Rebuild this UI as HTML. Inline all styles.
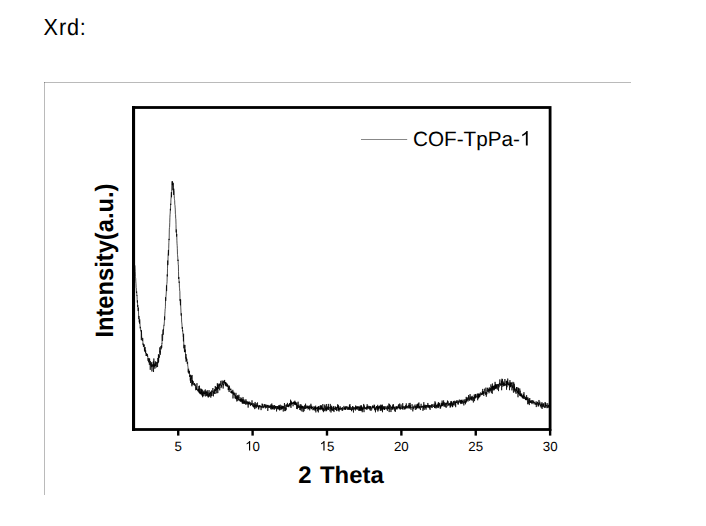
<!DOCTYPE html>
<html><head><meta charset="utf-8"><style>
html,body{margin:0;padding:0;background:#fff;}
body{width:706px;height:526px;overflow:hidden;position:relative;}
svg{position:absolute;left:0;top:0;}
</style></head><body>
<svg width="706" height="526" viewBox="0 0 706 526">
<text transform="translate(43.6 35) scale(0.93 1)" font-family="Liberation Sans, sans-serif" font-size="23.3" letter-spacing="0.9" text-rendering="geometricPrecision" fill="#000">Xrd:</text>
<line x1="44.5" y1="82" x2="44.5" y2="495" stroke="rgba(0,0,0,0.27)" stroke-width="1"/>
<line x1="44" y1="82.5" x2="631" y2="82.5" stroke="rgba(0,0,0,0.27)" stroke-width="1"/>
<polyline points="134.94,265.34 135.09,268.98 135.24,271.46 135.39,276.42 135.53,277.59 135.68,278.17 135.83,281.93 135.98,283.53 136.13,287.68 136.28,288.01 136.43,293.01 136.58,292.29 136.72,291.55 136.87,295.85 137.02,295.26 137.17,299.52 137.32,302.56 137.47,300.36 137.62,307.03 137.77,304.94 137.91,307.06 138.06,310.77 138.21,311.17 138.36,307.52 138.51,311.30 138.66,317.49 138.81,319.16 138.96,315.96 139.10,317.76 139.25,322.30 139.40,320.20 139.55,323.66 139.70,319.28 139.85,321.20 140.00,323.68 140.15,328.33 140.29,327.42 140.44,326.82 140.59,328.30 140.74,330.73 140.89,331.30 141.04,330.64 141.19,330.19 141.34,340.16 141.48,330.43 141.63,335.37 141.78,338.10 141.93,338.20 142.08,338.23 142.23,339.62 142.38,340.85 142.53,340.96 142.67,337.91 142.82,338.73 142.97,344.73 143.12,343.54 143.27,344.33 143.42,346.98 143.57,346.35 143.72,344.23 143.86,345.94 144.01,346.43 144.16,344.61 144.31,347.51 144.46,350.68 144.61,347.54 144.76,351.69 144.91,351.10 145.05,346.97 145.20,348.93 145.35,349.47 145.50,353.28 145.65,350.29 145.80,352.60 145.95,353.65 146.10,356.01 146.24,354.79 146.39,353.48 146.54,353.21 146.69,355.95 146.84,353.71 146.99,354.19 147.14,355.79 147.29,354.15 147.43,356.66 147.58,356.36 147.73,355.80 147.88,357.35 148.03,360.79 148.18,358.02 148.33,358.88 148.48,362.32 148.62,360.67 148.77,360.61 148.92,360.44 149.07,359.09 149.22,358.24 149.37,364.85 149.52,359.57 149.67,358.81 149.81,361.48 149.96,362.59 150.11,364.21 150.26,369.83 150.41,361.12 150.56,362.30 150.71,363.74 150.86,365.66 151.00,365.48 151.15,363.40 151.30,365.64 151.45,367.21 151.60,364.44 151.75,362.14 151.90,371.46 152.05,369.85 152.19,365.63 152.34,366.02 152.49,364.93 152.64,364.56 152.79,366.76 152.94,366.88 153.09,364.23 153.24,365.87 153.39,361.41 153.53,372.03 153.68,367.03 153.83,358.49 153.98,362.13 154.13,366.89 154.28,366.99 154.43,365.14 154.58,365.72 154.72,363.62 154.87,368.74 155.02,365.10 155.17,365.86 155.32,361.37 155.47,365.95 155.62,365.12 155.77,365.13 155.91,363.25 156.06,361.83 156.21,367.53 156.36,367.14 156.51,364.93 156.66,362.90 156.81,362.89 156.96,362.31 157.10,363.39 157.25,363.47 157.40,362.33 157.55,367.05 157.70,363.80 157.85,357.98 158.00,360.69 158.15,363.11 158.29,359.44 158.44,354.20 158.59,361.95 158.74,359.23 158.89,356.70 159.04,355.08 159.19,356.98 159.34,357.76 159.48,357.27 159.63,354.94 159.78,347.39 159.93,352.56 160.08,350.65 160.23,354.27 160.38,354.77 160.53,350.72 160.67,347.77 160.82,346.23 160.97,346.02 161.12,349.32 161.27,347.50 161.42,347.65 161.57,345.34 161.72,347.75 161.86,343.51 162.01,343.89 162.16,334.23 162.31,340.33 162.46,340.99 162.61,340.14 162.76,333.93 162.91,334.06 163.05,329.74 163.20,334.79 163.35,329.38 163.50,330.25 163.65,327.93 163.80,325.83 163.95,324.92 164.10,325.41 164.24,322.97 164.39,321.78 164.54,316.44 164.69,319.84 164.84,313.89 164.99,311.64 165.14,309.19 165.29,308.60 165.43,306.27 165.58,297.18 165.73,300.92 165.88,297.49 166.03,296.06 166.18,293.98 166.33,290.85 166.48,285.39 166.62,291.07 166.77,284.32 166.92,283.39 167.07,281.72 167.22,274.43 167.37,276.38 167.52,268.21 167.67,260.54 167.81,265.14 167.96,262.95 168.11,253.55 168.26,253.32 168.41,250.03 168.56,255.48 168.71,248.57 168.86,242.60 169.00,238.88 169.15,240.06 169.30,229.88 169.45,227.51 169.60,227.33 169.75,222.70 169.90,217.40 170.05,214.51 170.19,213.06 170.34,208.84 170.49,210.36 170.64,203.76 170.79,204.94 170.94,199.26 171.09,198.03 171.24,194.67 171.39,192.12 171.53,197.26 171.68,191.72 171.83,185.35 171.98,185.23 172.13,181.30 172.28,185.29 172.43,181.36 172.58,184.86 172.72,184.35 172.87,190.22 173.02,182.70 173.17,184.31 173.32,183.59 173.47,187.80 173.62,194.93 173.77,188.70 173.91,190.40 174.06,190.95 174.21,195.91 174.36,198.51 174.51,199.62 174.66,200.62 174.81,204.57 174.96,205.21 175.10,207.14 175.25,209.10 175.40,213.91 175.55,214.52 175.70,218.34 175.85,219.10 176.00,224.49 176.15,232.45 176.29,229.47 176.44,230.38 176.59,236.55 176.74,233.91 176.89,240.26 177.04,243.75 177.19,245.65 177.34,248.75 177.48,254.46 177.63,255.84 177.78,257.15 177.93,260.95 178.08,259.74 178.23,264.79 178.38,264.84 178.53,271.70 178.67,279.02 178.82,276.96 178.97,279.78 179.12,282.79 179.27,281.59 179.42,287.26 179.57,288.17 179.72,291.03 179.86,291.46 180.01,300.66 180.16,299.16 180.31,303.06 180.46,305.31 180.61,299.58 180.76,307.09 180.91,310.06 181.05,314.46 181.20,315.60 181.35,313.28 181.50,317.13 181.65,321.98 181.80,322.86 181.95,324.11 182.10,326.67 182.24,328.86 182.39,326.94 182.54,331.22 182.69,330.40 182.84,332.63 182.99,334.64 183.14,336.82 183.29,336.63 183.43,341.39 183.58,333.75 183.73,340.51 183.88,348.32 184.03,344.78 184.18,345.03 184.33,348.66 184.48,352.11 184.62,349.45 184.77,348.19 184.92,344.93 185.07,352.14 185.22,350.59 185.37,349.57 185.52,354.86 185.67,354.60 185.81,358.54 185.96,354.06 186.11,361.79 186.26,357.47 186.41,359.93 186.56,361.01 186.71,360.82 186.86,358.79 187.00,361.56 187.15,362.99 187.30,363.91 187.45,363.29 187.60,361.74 187.75,365.88 187.90,366.45 188.05,367.57 188.19,372.42 188.34,369.57 188.49,369.12 188.64,368.82 188.79,373.37 188.94,372.66 189.09,370.84 189.24,373.68 189.38,370.88 189.53,373.66 189.68,377.06 189.83,375.44 189.98,376.20 190.13,374.78 190.28,380.57 190.43,377.88 190.58,383.01 190.72,374.87 190.87,376.15 191.02,379.06 191.17,377.72 191.32,377.59 191.47,375.91 191.62,382.55 191.77,382.86 191.91,386.27 192.06,374.97 192.21,384.59 192.36,380.03 192.51,381.30 192.66,384.09 192.81,381.12 192.96,381.26 193.10,380.93 193.25,382.29 193.40,381.81 193.55,383.82 193.70,384.63 193.85,384.88 194.00,384.99 194.15,383.45 194.29,385.33 194.44,383.24 194.59,382.99 194.74,384.47 194.89,384.14 195.04,385.83 195.19,386.08 195.34,384.54 195.48,387.47 195.63,387.27 195.78,390.24 195.93,389.60 196.08,386.28 196.23,389.70 196.38,388.04 196.53,387.99 196.67,389.77 196.82,385.26 196.97,383.18 197.12,389.93 197.27,389.49 197.42,390.30 197.57,390.27 197.72,390.90 197.86,390.59 198.01,389.46 198.16,389.89 198.31,391.82 198.46,388.84 198.61,390.17 198.76,391.16 198.91,386.07 199.05,391.72 199.20,393.00 199.35,385.65 199.50,385.78 199.65,393.31 199.80,391.84 199.95,391.27 200.10,393.60 200.24,388.58 200.39,394.29 200.54,392.87 200.69,392.09 200.84,393.66 200.99,393.06 201.14,391.32 201.29,388.75 201.43,393.43 201.58,389.43 201.73,394.82 201.88,391.84 202.03,394.32 202.18,395.88 202.33,389.86 202.48,389.67 202.62,397.23 202.77,393.14 202.92,396.23 203.07,392.82 203.22,391.71 203.37,393.48 203.52,393.86 203.67,391.51 203.81,393.40 203.96,396.15 204.11,390.48 204.26,391.95 204.41,394.02 204.56,393.05 204.71,393.84 204.86,392.37 205.00,394.46 205.15,391.14 205.30,389.48 205.45,395.00 205.60,396.42 205.75,394.77 205.90,391.40 206.05,394.00 206.19,391.39 206.34,392.91 206.49,391.99 206.64,396.05 206.79,394.03 206.94,395.15 207.09,391.00 207.24,390.16 207.38,392.80 207.53,394.76 207.68,395.68 207.83,391.72 207.98,396.73 208.13,393.69 208.28,397.54 208.43,395.79 208.58,396.57 208.72,393.20 208.87,393.06 209.02,390.12 209.17,391.26 209.32,396.17 209.47,393.02 209.62,393.75 209.77,396.60 209.91,393.07 210.06,393.35 210.21,394.31 210.36,391.90 210.51,392.73 210.66,391.74 210.81,397.63 210.96,392.59 211.10,393.74 211.25,395.65 211.40,396.09 211.55,390.47 211.70,392.75 211.85,393.94 212.00,395.90 212.15,391.89 212.29,391.40 212.44,391.24 212.59,391.91 212.74,391.67 212.89,388.04 213.04,393.30 213.19,392.80 213.34,393.08 213.48,396.35 213.63,391.68 213.78,393.17 213.93,390.77 214.08,390.19 214.23,392.01 214.38,393.84 214.53,389.67 214.67,390.64 214.82,389.16 214.97,391.82 215.12,394.02 215.27,386.02 215.42,389.90 215.57,391.01 215.72,389.97 215.86,390.45 216.01,386.94 216.16,388.86 216.31,390.00 216.46,387.53 216.61,389.81 216.76,393.36 216.91,389.56 217.05,387.53 217.20,389.79 217.35,383.20 217.50,389.38 217.65,384.63 217.80,393.09 217.95,389.28 218.10,384.56 218.24,387.55 218.39,386.96 218.54,388.84 218.69,386.24 218.84,386.49 218.99,383.58 219.14,385.96 219.29,384.61 219.43,383.92 219.58,387.53 219.73,390.32 219.88,383.89 220.03,385.15 220.18,385.64 220.33,383.75 220.48,384.39 220.62,384.51 220.77,380.87 220.92,383.08 221.07,388.12 221.22,387.11 221.37,386.83 221.52,385.06 221.67,386.62 221.81,383.44 221.96,383.36 222.11,380.50 222.26,381.82 222.41,384.55 222.56,383.35 222.71,382.60 222.86,381.60 223.00,382.35 223.15,388.55 223.30,383.95 223.45,385.41 223.60,384.14 223.75,381.07 223.90,382.66 224.05,380.49 224.19,383.01 224.34,382.92 224.49,382.73 224.64,379.94 224.79,383.84 224.94,384.29 225.09,382.63 225.24,382.23 225.38,385.67 225.53,382.16 225.68,385.11 225.83,382.37 225.98,384.26 226.13,386.34 226.28,382.91 226.43,385.42 226.57,385.88 226.72,385.17 226.87,386.41 227.02,384.70 227.17,383.91 227.32,383.85 227.47,383.82 227.62,386.81 227.77,384.83 227.91,386.33 228.06,385.49 228.21,390.14 228.36,388.64 228.51,386.43 228.66,390.03 228.81,387.47 228.96,388.10 229.10,392.04 229.25,389.78 229.40,385.72 229.55,388.50 229.70,387.68 229.85,388.75 230.00,389.72 230.15,389.29 230.29,389.83 230.44,389.92 230.59,388.98 230.74,389.76 230.89,388.71 231.04,393.03 231.19,391.17 231.34,392.84 231.48,391.08 231.63,392.99 231.78,390.69 231.93,391.20 232.08,393.78 232.23,391.79 232.38,393.10 232.53,392.48 232.67,392.84 232.82,389.84 232.97,398.46 233.12,395.73 233.27,393.07 233.42,393.86 233.57,394.08 233.72,391.70 233.86,394.68 234.01,393.79 234.16,395.36 234.31,393.78 234.46,392.83 234.61,394.75 234.76,396.35 234.91,396.90 235.05,398.40 235.20,396.33 235.35,394.82 235.50,398.72 235.65,396.16 235.80,396.52 235.95,392.84 236.10,394.81 236.24,396.03 236.39,399.41 236.54,398.97 236.69,396.09 236.84,401.48 236.99,397.94 237.14,396.56 237.29,398.13 237.43,398.93 237.58,398.44 237.73,395.05 237.88,401.02 238.03,398.10 238.18,396.19 238.33,399.01 238.48,400.00 238.62,398.75 238.77,397.63 238.92,394.76 239.07,397.93 239.22,397.51 239.37,398.19 239.52,399.96 239.67,399.57 239.81,401.00 239.96,399.10 240.11,401.15 240.26,400.87 240.41,401.79 240.56,398.90 240.71,400.66 240.86,397.37 241.00,400.05 241.15,400.25 241.30,401.19 241.45,401.07 241.60,398.30 241.75,402.30 241.90,399.50 242.05,401.45 242.19,400.20 242.34,403.61 242.49,402.26 242.64,399.21 242.79,403.26 242.94,397.13 243.09,397.21 243.24,403.32 243.38,403.09 243.53,402.62 243.68,403.40 243.83,399.20 243.98,402.05 244.13,403.92 244.28,400.64 244.43,401.61 244.57,403.44 244.72,402.34 244.87,400.71 245.02,402.22 245.17,403.20 245.32,402.79 245.47,402.63 245.62,404.64 245.77,402.36 245.91,399.24 246.06,402.95 246.21,400.78 246.36,403.55 246.51,404.14 246.66,403.44 246.81,402.49 246.96,403.41 247.10,404.59 247.25,401.70 247.40,401.29 247.55,403.55 247.70,402.26 247.85,402.77 248.00,402.55 248.15,407.62 248.29,402.36 248.44,403.85 248.59,401.99 248.74,404.63 248.89,404.27 249.04,401.33 249.19,403.69 249.34,403.14 249.48,403.95 249.63,402.87 249.78,404.31 249.93,403.13 250.08,401.98 250.23,403.92 250.38,405.23 250.53,405.99 250.67,405.88 250.82,403.53 250.97,405.04 251.12,403.29 251.27,405.02 251.42,403.43 251.57,404.48 251.72,405.00 251.86,403.61 252.01,400.31 252.16,404.47 252.31,403.45 252.46,403.44 252.61,406.15 252.76,405.45 252.91,405.62 253.05,405.40 253.20,406.77 253.35,403.62 253.50,403.32 253.65,404.53 253.80,407.46 253.95,405.55 254.10,407.12 254.24,403.59 254.39,403.92 254.54,405.49 254.69,409.13 254.84,406.40 254.99,404.34 255.14,401.96 255.29,406.48 255.43,405.70 255.58,406.46 255.73,404.65 255.88,408.32 256.03,407.13 256.18,403.25 256.33,404.81 256.48,407.57 256.62,406.90 256.77,405.10 256.92,405.86 257.07,406.13 257.22,405.10 257.37,405.98 257.52,402.46 257.67,405.61 257.81,406.96 257.96,405.44 258.11,407.31 258.26,407.42 258.41,408.61 258.56,405.85 258.71,409.50 258.86,407.77 259.00,406.46 259.15,405.18 259.30,406.74 259.45,406.32 259.60,405.59 259.75,407.43 259.90,406.83 260.05,405.24 260.19,406.81 260.34,406.81 260.49,406.57 260.64,405.99 260.79,406.68 260.94,407.84 261.09,410.12 261.24,405.97 261.38,407.57 261.53,407.30 261.68,406.27 261.83,406.07 261.98,405.79 262.13,403.57 262.28,408.16 262.43,407.41 262.57,405.14 262.72,404.03 262.87,405.50 263.02,405.96 263.17,406.78 263.32,405.68 263.47,407.39 263.62,407.00 263.76,408.15 263.91,406.54 264.06,406.78 264.21,406.24 264.36,404.32 264.51,405.19 264.66,406.98 264.81,407.18 264.96,403.99 265.10,406.31 265.25,405.45 265.40,407.61 265.55,408.41 265.70,405.51 265.85,407.40 266.00,406.13 266.15,406.42 266.29,404.69 266.44,405.31 266.59,407.15 266.74,408.03 266.89,406.21 267.04,405.39 267.19,405.53 267.34,406.47 267.48,405.94 267.63,404.95 267.78,410.92 267.93,408.44 268.08,404.94 268.23,407.45 268.38,407.34 268.53,407.75 268.67,405.80 268.82,405.74 268.97,406.60 269.12,406.34 269.27,407.69 269.42,407.83 269.57,406.73 269.72,405.48 269.86,407.69 270.01,406.02 270.16,407.05 270.31,407.30 270.46,405.69 270.61,407.74 270.76,409.25 270.91,404.39 271.05,405.73 271.20,406.20 271.35,405.94 271.50,408.31 271.65,408.34 271.80,403.53 271.95,409.61 272.10,405.46 272.24,406.94 272.39,408.73 272.54,407.20 272.69,408.82 272.84,407.07 272.99,405.16 273.14,406.69 273.29,405.74 273.43,407.67 273.58,407.61 273.73,406.21 273.88,409.07 274.03,407.10 274.18,409.87 274.33,406.34 274.48,405.12 274.62,407.45 274.77,408.46 274.92,407.96 275.07,407.41 275.22,405.85 275.37,407.93 275.52,406.43 275.67,406.14 275.81,408.90 275.96,408.73 276.11,406.14 276.26,407.39 276.41,407.72 276.56,411.45 276.71,407.79 276.86,407.92 277.00,406.03 277.15,406.80 277.30,406.13 277.45,408.88 277.60,408.74 277.75,406.62 277.90,409.30 278.05,409.36 278.19,406.23 278.34,408.10 278.49,409.25 278.64,406.49 278.79,405.20 278.94,405.70 279.09,407.24 279.24,408.21 279.38,405.43 279.53,410.40 279.68,406.13 279.83,409.61 279.98,406.90 280.13,404.71 280.28,404.71 280.43,406.07 280.57,408.22 280.72,407.13 280.87,410.13 281.02,407.56 281.17,407.46 281.32,408.08 281.47,406.71 281.62,409.14 281.76,405.45 281.91,409.24 282.06,406.49 282.21,408.95 282.36,406.24 282.51,407.96 282.66,407.55 282.81,406.64 282.96,407.14 283.10,405.94 283.25,411.55 283.40,406.36 283.55,406.72 283.70,407.96 283.85,407.44 284.00,408.65 284.15,406.50 284.29,405.93 284.44,403.02 284.59,405.39 284.74,411.11 284.89,406.47 285.04,405.16 285.19,404.83 285.34,407.09 285.48,408.70 285.63,411.06 285.78,407.38 285.93,409.26 286.08,408.59 286.23,409.74 286.38,404.40 286.53,405.70 286.67,405.76 286.82,406.80 286.97,404.79 287.12,405.82 287.27,406.73 287.42,402.89 287.57,404.82 287.72,404.63 287.86,406.75 288.01,405.58 288.16,405.16 288.31,405.05 288.46,406.67 288.61,404.70 288.76,407.18 288.91,405.23 289.05,405.18 289.20,404.23 289.35,403.73 289.50,405.58 289.65,403.54 289.80,404.12 289.95,403.02 290.10,406.41 290.24,403.96 290.39,404.41 290.54,399.71 290.69,400.78 290.84,402.66 290.99,407.91 291.14,400.88 291.29,404.39 291.43,402.33 291.58,404.33 291.73,404.38 291.88,402.80 292.03,402.56 292.18,403.05 292.33,403.88 292.48,403.33 292.62,402.82 292.77,403.66 292.92,402.50 293.07,406.27 293.22,402.95 293.37,403.28 293.52,402.01 293.67,402.99 293.81,403.43 293.96,401.53 294.11,402.78 294.26,404.17 294.41,402.30 294.56,404.36 294.71,404.79 294.86,400.72 295.00,403.57 295.15,401.82 295.30,404.91 295.45,402.40 295.60,404.17 295.75,402.11 295.90,405.13 296.05,404.26 296.19,403.23 296.34,405.22 296.49,404.19 296.64,408.98 296.79,403.42 296.94,402.49 297.09,404.29 297.24,404.43 297.38,409.15 297.53,405.24 297.68,406.26 297.83,407.53 297.98,406.06 298.13,401.68 298.28,404.03 298.43,405.12 298.57,406.32 298.72,407.90 298.87,405.17 299.02,407.71 299.17,406.49 299.32,407.21 299.47,407.13 299.62,406.11 299.76,409.99 299.91,408.05 300.06,407.19 300.21,404.22 300.36,407.99 300.51,407.06 300.66,410.37 300.81,406.05 300.95,406.71 301.10,404.48 301.25,408.66 301.40,405.74 301.55,407.66 301.70,406.37 301.85,411.39 302.00,408.36 302.15,408.44 302.29,406.07 302.44,407.78 302.59,405.84 302.74,408.54 302.89,406.70 303.04,408.94 303.19,412.08 303.34,408.39 303.48,406.61 303.63,407.80 303.78,408.31 303.93,407.69 304.08,411.13 304.23,406.18 304.38,408.84 304.53,408.49 304.67,407.68 304.82,404.96 304.97,405.55 305.12,408.91 305.27,407.57 305.42,405.02 305.57,403.67 305.72,408.84 305.86,408.22 306.01,408.27 306.16,405.52 306.31,407.17 306.46,408.22 306.61,407.20 306.76,406.95 306.91,407.46 307.05,406.33 307.20,406.29 307.35,407.63 307.50,406.87 307.65,408.09 307.80,405.63 307.95,409.44 308.10,408.99 308.24,406.86 308.39,406.12 308.54,408.69 308.69,407.30 308.84,407.64 308.99,407.40 309.14,408.72 309.29,405.82 309.43,407.71 309.58,407.22 309.73,410.37 309.88,407.55 310.03,405.32 310.18,408.07 310.33,407.55 310.48,408.26 310.62,407.52 310.77,407.11 310.92,403.77 311.07,407.30 311.22,408.53 311.37,406.93 311.52,409.16 311.67,405.74 311.81,408.15 311.96,407.45 312.11,407.68 312.26,406.73 312.41,408.01 312.56,406.98 312.71,408.18 312.86,407.59 313.00,410.24 313.15,408.39 313.30,409.74 313.45,407.91 313.60,408.24 313.75,408.68 313.90,407.59 314.05,406.06 314.19,408.80 314.34,407.21 314.49,407.66 314.64,409.38 314.79,410.50 314.94,408.32 315.09,407.09 315.24,410.24 315.38,406.90 315.53,410.38 315.68,405.68 315.83,412.40 315.98,410.29 316.13,407.55 316.28,408.17 316.43,408.97 316.57,408.16 316.72,408.64 316.87,407.45 317.02,408.25 317.17,408.26 317.32,407.27 317.47,411.21 317.62,408.08 317.76,407.18 317.91,406.67 318.06,408.58 318.21,407.45 318.36,412.42 318.51,406.36 318.66,409.72 318.81,406.66 318.95,406.30 319.10,408.90 319.25,408.97 319.40,408.91 319.55,408.18 319.70,408.90 319.85,407.87 320.00,410.16 320.15,405.71 320.29,408.75 320.44,408.36 320.59,408.95 320.74,407.36 320.89,405.19 321.04,409.70 321.19,405.52 321.34,409.25 321.48,407.64 321.63,405.89 321.78,408.93 321.93,407.92 322.08,409.04 322.23,407.56 322.38,409.11 322.53,407.96 322.67,410.65 322.82,404.05 322.97,407.62 323.12,409.45 323.27,407.78 323.42,412.17 323.57,409.61 323.72,410.26 323.86,408.84 324.01,410.74 324.16,409.89 324.31,408.19 324.46,405.65 324.61,404.73 324.76,404.62 324.91,411.22 325.05,407.31 325.20,405.75 325.35,407.95 325.50,409.59 325.65,407.54 325.80,407.80 325.95,409.64 326.10,408.03 326.24,411.23 326.39,404.03 326.54,408.34 326.69,410.70 326.84,407.60 326.99,407.90 327.14,409.06 327.29,408.02 327.43,407.18 327.58,408.63 327.73,409.68 327.88,407.65 328.03,406.17 328.18,409.59 328.33,403.91 328.48,408.09 328.62,409.85 328.77,407.80 328.92,407.37 329.07,406.89 329.22,407.32 329.37,407.75 329.52,407.39 329.67,408.18 329.81,408.09 329.96,411.34 330.11,407.40 330.26,403.92 330.41,404.48 330.56,407.49 330.71,408.84 330.86,406.38 331.00,412.50 331.15,407.75 331.30,410.36 331.45,406.04 331.60,405.74 331.75,409.65 331.90,407.66 332.05,407.24 332.19,408.42 332.34,408.65 332.49,410.23 332.64,409.49 332.79,410.83 332.94,407.80 333.09,406.66 333.24,406.54 333.38,410.92 333.53,406.82 333.68,406.22 333.83,407.80 333.98,412.06 334.13,408.93 334.28,409.19 334.43,408.18 334.57,408.71 334.72,407.88 334.87,408.53 335.02,408.38 335.17,406.47 335.32,407.26 335.47,409.99 335.62,407.92 335.76,406.79 335.91,408.02 336.06,407.91 336.21,409.53 336.36,407.17 336.51,407.26 336.66,411.11 336.81,409.35 336.95,410.66 337.10,408.27 337.25,407.95 337.40,407.42 337.55,408.13 337.70,404.24 337.85,408.27 338.00,405.54 338.14,407.87 338.29,410.20 338.44,405.25 338.59,410.46 338.74,409.51 338.89,407.38 339.04,411.56 339.19,408.91 339.34,407.95 339.48,409.75 339.63,408.04 339.78,408.75 339.93,407.47 340.08,406.18 340.23,407.80 340.38,407.55 340.53,408.37 340.67,408.29 340.82,410.03 340.97,407.80 341.12,409.20 341.27,407.95 341.42,408.62 341.57,408.05 341.72,408.83 341.86,408.70 342.01,410.61 342.16,409.22 342.31,407.45 342.46,407.05 342.61,410.78 342.76,409.89 342.91,409.01 343.05,409.66 343.20,408.43 343.35,407.93 343.50,408.42 343.65,407.88 343.80,406.21 343.95,405.92 344.10,406.11 344.24,408.96 344.39,408.23 344.54,409.32 344.69,407.19 344.84,409.70 344.99,407.54 345.14,409.15 345.29,408.38 345.43,409.34 345.58,406.32 345.73,410.01 345.88,408.51 346.03,408.92 346.18,406.93 346.33,407.50 346.48,407.99 346.62,407.58 346.77,406.03 346.92,406.75 347.07,408.62 347.22,407.62 347.37,408.61 347.52,409.20 347.67,409.90 347.81,406.98 347.96,406.74 348.11,408.08 348.26,408.48 348.41,407.60 348.56,409.57 348.71,408.34 348.86,409.32 349.00,406.99 349.15,409.57 349.30,409.33 349.45,404.93 349.60,408.12 349.75,409.67 349.90,404.08 350.05,407.98 350.19,406.41 350.34,409.95 350.49,409.51 350.64,408.92 350.79,408.08 350.94,408.54 351.09,409.10 351.24,410.02 351.38,409.05 351.53,411.20 351.68,407.21 351.83,408.51 351.98,410.25 352.13,410.06 352.28,408.10 352.43,407.47 352.57,406.06 352.72,409.64 352.87,407.86 353.02,406.53 353.17,407.38 353.32,410.87 353.47,412.50 353.62,407.36 353.76,407.10 353.91,409.33 354.06,409.12 354.21,408.69 354.36,408.54 354.51,407.55 354.66,409.01 354.81,409.45 354.95,408.52 355.10,407.37 355.25,409.30 355.40,410.56 355.55,405.62 355.70,406.26 355.85,408.57 356.00,409.17 356.14,405.90 356.29,409.44 356.44,409.00 356.59,406.92 356.74,408.82 356.89,408.28 357.04,407.16 357.19,407.88 357.34,408.11 357.48,406.59 357.63,409.65 357.78,407.33 357.93,406.25 358.08,406.10 358.23,408.01 358.38,407.46 358.53,407.14 358.67,410.54 358.82,410.82 358.97,410.52 359.12,406.34 359.27,410.46 359.42,408.14 359.57,407.07 359.72,407.94 359.86,410.49 360.01,408.54 360.16,410.76 360.31,405.71 360.46,408.23 360.61,410.02 360.76,408.84 360.91,406.92 361.05,410.88 361.20,405.08 361.35,406.82 361.50,409.16 361.65,406.05 361.80,407.62 361.95,410.76 362.10,408.06 362.24,412.23 362.39,407.48 362.54,410.03 362.69,408.83 362.84,407.42 362.99,408.18 363.14,408.29 363.29,409.33 363.43,406.26 363.58,404.84 363.73,403.95 363.88,408.01 364.03,412.16 364.18,405.37 364.33,407.93 364.48,406.64 364.62,408.16 364.77,408.73 364.92,408.18 365.07,408.96 365.22,408.89 365.37,407.48 365.52,408.82 365.67,408.91 365.81,407.76 365.96,407.32 366.11,409.35 366.26,409.51 366.41,409.14 366.56,406.67 366.71,407.75 366.86,407.66 367.00,409.69 367.15,404.22 367.30,406.89 367.45,408.42 367.60,405.93 367.75,407.75 367.90,407.80 368.05,407.44 368.19,408.89 368.34,408.66 368.49,407.55 368.64,408.07 368.79,405.81 368.94,406.48 369.09,407.44 369.24,406.04 369.38,409.28 369.53,407.84 369.68,407.11 369.83,406.66 369.98,408.24 370.13,410.40 370.28,406.64 370.43,406.36 370.57,408.30 370.72,406.22 370.87,407.79 371.02,410.87 371.17,410.24 371.32,407.95 371.47,407.52 371.62,407.98 371.76,408.73 371.91,409.40 372.06,408.44 372.21,408.22 372.36,406.14 372.51,407.64 372.66,405.44 372.81,407.88 372.95,407.22 373.10,405.97 373.25,408.10 373.40,408.09 373.55,407.28 373.70,406.48 373.85,407.14 374.00,407.52 374.14,404.65 374.29,408.74 374.44,407.39 374.59,405.26 374.74,410.27 374.89,408.57 375.04,409.91 375.19,407.91 375.33,407.96 375.48,412.32 375.63,407.47 375.78,408.79 375.93,410.12 376.08,406.75 376.23,406.87 376.38,407.21 376.53,406.27 376.67,408.36 376.82,406.09 376.97,408.15 377.12,407.44 377.27,409.60 377.42,408.07 377.57,406.84 377.72,404.83 377.86,411.49 378.01,406.59 378.16,410.34 378.31,407.25 378.46,406.65 378.61,408.90 378.76,406.66 378.91,408.24 379.05,406.79 379.20,406.80 379.35,406.21 379.50,408.45 379.65,406.31 379.80,407.29 379.95,406.28 380.10,405.34 380.24,410.59 380.39,409.71 380.54,406.64 380.69,410.68 380.84,404.64 380.99,407.98 381.14,406.77 381.29,408.63 381.43,408.78 381.58,405.75 381.73,410.53 381.88,405.27 382.03,406.88 382.18,410.02 382.33,404.64 382.48,412.22 382.62,408.38 382.77,408.07 382.92,408.91 383.07,406.98 383.22,407.40 383.37,406.19 383.52,408.69 383.67,407.75 383.81,407.39 383.96,409.58 384.11,407.62 384.26,409.40 384.41,406.32 384.56,410.00 384.71,408.32 384.86,409.12 385.00,409.12 385.15,407.73 385.30,406.30 385.45,406.89 385.60,407.22 385.75,408.04 385.90,408.77 386.05,408.13 386.19,407.48 386.34,409.33 386.49,408.77 386.64,408.82 386.79,406.60 386.94,406.34 387.09,406.17 387.24,405.96 387.38,410.80 387.53,407.21 387.68,406.64 387.83,405.58 387.98,407.82 388.13,408.88 388.28,407.48 388.43,406.81 388.57,408.11 388.72,409.04 388.87,403.52 389.02,407.26 389.17,412.09 389.32,408.04 389.47,407.45 389.62,404.09 389.76,407.80 389.91,409.58 390.06,409.46 390.21,405.14 390.36,405.84 390.51,407.44 390.66,407.77 390.81,408.93 390.95,412.06 391.10,410.42 391.25,406.63 391.40,408.05 391.55,407.07 391.70,407.73 391.85,409.51 392.00,409.88 392.14,409.52 392.29,406.33 392.44,409.11 392.59,408.49 392.74,404.61 392.89,407.12 393.04,409.47 393.19,407.11 393.33,408.13 393.48,404.26 393.63,407.60 393.78,407.47 393.93,406.83 394.08,407.20 394.23,409.22 394.38,408.34 394.53,406.81 394.67,407.26 394.82,411.03 394.97,407.44 395.12,408.39 395.27,411.95 395.42,409.35 395.57,409.56 395.72,408.66 395.86,406.98 396.01,406.42 396.16,408.66 396.31,406.52 396.46,406.97 396.61,409.25 396.76,408.19 396.91,406.49 397.05,406.79 397.20,409.35 397.35,406.85 397.50,407.87 397.65,406.68 397.80,407.32 397.95,407.40 398.10,407.63 398.24,407.51 398.39,404.90 398.54,406.41 398.69,408.19 398.84,404.20 398.99,405.54 399.14,408.34 399.29,408.59 399.43,407.08 399.58,408.27 399.73,403.52 399.88,405.88 400.03,409.37 400.18,407.49 400.33,406.83 400.48,407.85 400.62,409.38 400.77,407.20 400.92,406.36 401.07,404.51 401.22,407.51 401.37,408.20 401.52,408.98 401.67,408.61 401.81,408.24 401.96,406.22 402.11,406.50 402.26,407.66 402.41,407.30 402.56,409.00 402.71,403.16 402.86,409.65 403.00,407.51 403.15,405.97 403.30,406.09 403.45,407.63 403.60,407.43 403.75,407.87 403.90,407.26 404.05,407.92 404.19,409.28 404.34,408.96 404.49,409.13 404.64,406.74 404.79,406.18 404.94,409.41 405.09,406.49 405.24,406.48 405.38,408.37 405.53,406.72 405.68,405.18 405.83,408.61 405.98,407.43 406.13,407.66 406.28,403.38 406.43,405.89 406.57,406.69 406.72,408.26 406.87,405.92 407.02,407.69 407.17,406.98 407.32,406.04 407.47,406.72 407.62,406.70 407.76,407.96 407.91,408.41 408.06,407.72 408.21,407.18 408.36,404.90 408.51,407.25 408.66,408.06 408.81,408.16 408.95,408.22 409.10,403.03 409.25,406.78 409.40,407.87 409.55,407.40 409.70,405.40 409.85,408.67 410.00,406.89 410.14,402.89 410.29,406.16 410.44,407.84 410.59,405.35 410.74,408.61 410.89,408.53 411.04,409.75 411.19,407.21 411.33,407.55 411.48,407.46 411.63,407.29 411.78,407.73 411.93,407.50 412.08,404.21 412.23,405.32 412.38,406.06 412.52,406.20 412.67,407.88 412.82,411.36 412.97,406.96 413.12,407.76 413.27,407.30 413.42,406.74 413.57,409.11 413.72,408.76 413.86,406.09 414.01,405.71 414.16,406.37 414.31,406.76 414.46,407.02 414.61,407.67 414.76,406.61 414.91,406.88 415.05,404.54 415.20,408.66 415.35,409.89 415.50,408.09 415.65,406.22 415.80,407.63 415.95,407.02 416.10,406.28 416.24,407.16 416.39,409.34 416.54,408.00 416.69,404.46 416.84,406.93 416.99,408.01 417.14,406.39 417.29,408.31 417.43,407.49 417.58,403.93 417.73,407.89 417.88,404.53 418.03,406.74 418.18,403.51 418.33,403.22 418.48,404.95 418.62,407.86 418.77,407.38 418.92,402.48 419.07,408.70 419.22,407.03 419.37,407.60 419.52,407.98 419.67,406.16 419.81,408.09 419.96,405.91 420.11,406.20 420.26,408.41 420.41,410.04 420.56,407.79 420.71,407.68 420.86,406.05 421.00,404.83 421.15,403.81 421.30,406.74 421.45,407.67 421.60,406.06 421.75,407.06 421.90,406.72 422.05,407.21 422.19,407.28 422.34,406.55 422.49,407.08 422.64,406.17 422.79,405.86 422.94,410.83 423.09,408.95 423.24,405.63 423.38,408.46 423.53,408.11 423.68,403.59 423.83,402.19 423.98,406.39 424.13,409.93 424.28,406.76 424.43,405.62 424.57,406.97 424.72,405.61 424.87,404.66 425.02,408.19 425.17,406.80 425.32,406.79 425.47,408.20 425.62,405.31 425.76,406.61 425.91,405.28 426.06,409.71 426.21,407.19 426.36,405.01 426.51,405.23 426.66,407.27 426.81,407.03 426.95,407.62 427.10,407.16 427.25,404.93 427.40,406.09 427.55,406.72 427.70,404.29 427.85,402.96 428.00,404.85 428.14,407.67 428.29,404.84 428.44,406.93 428.59,406.50 428.74,407.39 428.89,405.36 429.04,406.08 429.19,407.50 429.33,405.09 429.48,408.41 429.63,405.65 429.78,406.30 429.93,406.87 430.08,409.88 430.23,406.67 430.38,406.87 430.52,405.62 430.67,405.23 430.82,407.10 430.97,406.92 431.12,405.20 431.27,404.98 431.42,407.44 431.57,404.84 431.72,405.15 431.86,405.26 432.01,404.04 432.16,408.04 432.31,406.28 432.46,405.73 432.61,405.02 432.76,404.70 432.91,405.97 433.05,406.11 433.20,406.79 433.35,405.91 433.50,406.13 433.65,406.02 433.80,406.94 433.95,406.80 434.10,403.79 434.24,405.87 434.39,405.11 434.54,408.07 434.69,406.47 434.84,406.54 434.99,401.33 435.14,408.00 435.29,405.27 435.43,404.80 435.58,402.61 435.73,404.34 435.88,405.37 436.03,408.53 436.18,404.88 436.33,406.49 436.48,407.24 436.62,405.46 436.77,404.81 436.92,405.60 437.07,407.45 437.22,405.86 437.37,406.27 437.52,404.51 437.67,405.83 437.81,406.00 437.96,408.08 438.11,403.41 438.26,405.77 438.41,402.13 438.56,407.59 438.71,403.96 438.86,405.42 439.00,406.63 439.15,406.28 439.30,404.61 439.45,402.89 439.60,405.48 439.75,404.40 439.90,404.95 440.05,406.04 440.19,408.65 440.34,405.45 440.49,405.70 440.64,408.30 440.79,406.16 440.94,405.76 441.09,406.20 441.24,402.81 441.38,404.24 441.53,406.32 441.68,403.51 441.83,406.03 441.98,406.08 442.13,400.57 442.28,405.81 442.43,404.31 442.57,405.27 442.72,402.79 442.87,403.75 443.02,405.89 443.17,406.32 443.32,402.39 443.47,403.45 443.62,400.39 443.76,405.04 443.91,403.73 444.06,404.04 444.21,403.67 444.36,406.68 444.51,403.05 444.66,402.33 444.81,402.86 444.95,403.42 445.10,405.99 445.25,406.40 445.40,405.62 445.55,403.14 445.70,405.01 445.85,406.82 446.00,406.08 446.14,407.88 446.29,402.87 446.44,403.10 446.59,404.49 446.74,403.59 446.89,402.70 447.04,404.29 447.19,406.35 447.33,403.48 447.48,400.52 447.63,401.89 447.78,403.68 447.93,401.14 448.08,401.66 448.23,402.13 448.38,403.77 448.52,405.35 448.67,403.59 448.82,404.40 448.97,404.29 449.12,405.65 449.27,404.15 449.42,402.98 449.57,404.30 449.71,404.40 449.86,404.99 450.01,404.01 450.16,407.64 450.31,405.45 450.46,402.97 450.61,406.98 450.76,404.60 450.91,401.49 451.05,405.66 451.20,400.96 451.35,404.01 451.50,402.80 451.65,404.40 451.80,401.88 451.95,405.81 452.10,403.61 452.24,403.77 452.39,407.21 452.54,403.77 452.69,406.90 452.84,403.08 452.99,403.83 453.14,402.03 453.29,402.57 453.43,400.96 453.58,405.17 453.73,404.16 453.88,403.75 454.03,405.34 454.18,401.57 454.33,402.86 454.48,403.57 454.62,402.69 454.77,400.74 454.92,402.65 455.07,403.98 455.22,405.63 455.37,403.82 455.52,401.61 455.67,407.18 455.81,401.76 455.96,402.56 456.11,402.64 456.26,402.02 456.41,402.73 456.56,401.44 456.71,403.02 456.86,400.33 457.00,401.54 457.15,400.46 457.30,402.14 457.45,402.73 457.60,402.89 457.75,402.49 457.90,404.30 458.05,401.37 458.19,401.95 458.34,404.47 458.49,403.46 458.64,402.11 458.79,400.80 458.94,402.53 459.09,399.89 459.24,399.71 459.38,399.60 459.53,401.20 459.68,402.08 459.83,402.13 459.98,402.49 460.13,402.24 460.28,400.72 460.43,400.94 460.57,403.38 460.72,399.94 460.87,403.92 461.02,403.84 461.17,403.84 461.32,399.77 461.47,403.48 461.62,400.49 461.76,400.84 461.91,400.35 462.06,402.13 462.21,402.09 462.36,400.96 462.51,402.20 462.66,401.18 462.81,403.74 462.95,399.70 463.10,399.66 463.25,400.25 463.40,403.08 463.55,402.72 463.70,402.45 463.85,405.41 464.00,401.77 464.14,400.39 464.29,400.19 464.44,399.49 464.59,402.67 464.74,403.02 464.89,401.65 465.04,400.94 465.19,401.82 465.33,401.65 465.48,404.28 465.63,401.45 465.78,402.65 465.93,399.11 466.08,402.40 466.23,396.87 466.38,401.49 466.52,398.44 466.67,401.01 466.82,401.07 466.97,399.55 467.12,399.58 467.27,397.36 467.42,398.23 467.57,399.30 467.71,400.31 467.86,398.57 468.01,401.52 468.16,398.69 468.31,398.30 468.46,397.95 468.61,394.99 468.76,399.40 468.91,398.18 469.05,396.54 469.20,399.56 469.35,398.63 469.50,399.73 469.65,400.77 469.80,399.14 469.95,397.58 470.10,394.12 470.24,398.33 470.39,399.18 470.54,397.52 470.69,397.78 470.84,399.88 470.99,399.65 471.14,396.42 471.29,397.41 471.43,400.35 471.58,397.09 471.73,398.69 471.88,398.97 472.03,398.49 472.18,395.83 472.33,399.21 472.48,400.54 472.62,399.19 472.77,398.30 472.92,396.96 473.07,398.32 473.22,399.39 473.37,402.49 473.52,400.12 473.67,397.31 473.81,399.11 473.96,399.45 474.11,396.71 474.26,394.56 474.41,399.54 474.56,401.11 474.71,395.83 474.86,398.07 475.00,397.70 475.15,397.39 475.30,393.97 475.45,394.83 475.60,398.38 475.75,394.16 475.90,396.84 476.05,397.06 476.19,397.58 476.34,396.32 476.49,395.82 476.64,395.80 476.79,396.27 476.94,396.15 477.09,396.88 477.24,393.79 477.38,395.15 477.53,397.99 477.68,400.25 477.83,395.98 477.98,393.50 478.13,397.75 478.28,394.90 478.43,393.74 478.57,398.50 478.72,394.49 478.87,397.35 479.02,396.11 479.17,394.19 479.32,393.91 479.47,397.20 479.62,393.70 479.76,395.35 479.91,395.35 480.06,396.49 480.21,394.59 480.36,392.46 480.51,393.48 480.66,394.80 480.81,395.03 480.95,395.19 481.10,394.05 481.25,394.31 481.40,393.57 481.55,393.12 481.70,395.02 481.85,392.98 482.00,393.13 482.14,393.16 482.29,391.43 482.44,394.58 482.59,392.28 482.74,388.93 482.89,394.30 483.04,393.64 483.19,392.27 483.33,393.66 483.48,391.23 483.63,394.51 483.78,395.86 483.93,392.75 484.08,393.52 484.23,392.67 484.38,391.39 484.52,390.90 484.67,388.69 484.82,392.49 484.97,392.19 485.12,393.40 485.27,393.39 485.42,392.40 485.57,394.13 485.71,394.95 485.86,387.68 486.01,387.61 486.16,393.01 486.31,396.69 486.46,392.24 486.61,393.22 486.76,393.72 486.90,394.24 487.05,393.24 487.20,390.28 487.35,390.76 487.50,387.78 487.65,389.05 487.80,389.23 487.95,391.88 488.10,388.50 488.24,391.67 488.39,390.82 488.54,390.82 488.69,390.05 488.84,389.03 488.99,393.26 489.14,392.81 489.29,387.39 489.43,389.22 489.58,390.58 489.73,391.01 489.88,388.47 490.03,391.65 490.18,389.26 490.33,390.54 490.48,388.21 490.62,390.07 490.77,387.91 490.92,384.40 491.07,388.37 491.22,390.51 491.37,392.85 491.52,391.41 491.67,386.64 491.81,389.56 491.96,390.26 492.11,386.28 492.26,393.79 492.41,383.52 492.56,389.28 492.71,386.10 492.86,388.62 493.00,386.72 493.15,386.27 493.30,390.32 493.45,386.21 493.60,388.68 493.75,387.71 493.90,385.61 494.05,387.30 494.19,390.24 494.34,386.89 494.49,385.49 494.64,389.42 494.79,387.42 494.94,388.83 495.09,381.86 495.24,387.96 495.38,383.93 495.53,384.27 495.68,388.84 495.83,384.19 495.98,387.86 496.13,385.85 496.28,388.59 496.43,386.14 496.57,384.92 496.72,387.54 496.87,384.03 497.02,384.48 497.17,385.96 497.32,389.62 497.47,385.64 497.62,385.33 497.76,384.35 497.91,385.61 498.06,384.00 498.21,384.32 498.36,384.39 498.51,391.11 498.66,385.20 498.81,385.95 498.95,384.25 499.10,387.33 499.25,385.22 499.40,382.88 499.55,384.45 499.70,383.43 499.85,379.41 500.00,383.94 500.14,383.34 500.29,383.28 500.44,385.66 500.59,385.44 500.74,383.94 500.89,385.22 501.04,384.53 501.19,384.70 501.33,384.18 501.48,380.69 501.63,390.22 501.78,385.08 501.93,378.72 502.08,385.01 502.23,384.06 502.38,384.73 502.52,379.16 502.67,383.76 502.82,386.69 502.97,386.09 503.12,385.50 503.27,385.01 503.42,383.13 503.57,385.94 503.71,381.56 503.86,384.37 504.01,384.48 504.16,384.83 504.31,383.06 504.46,383.57 504.61,386.07 504.76,384.38 504.90,379.01 505.05,383.32 505.20,385.34 505.35,385.22 505.50,385.21 505.65,384.16 505.80,384.00 505.95,385.24 506.10,385.49 506.24,380.80 506.39,380.83 506.54,389.73 506.69,381.01 506.84,383.31 506.99,387.25 507.14,381.69 507.29,384.64 507.43,380.72 507.58,383.99 507.73,378.56 507.88,381.62 508.03,384.05 508.18,385.15 508.33,384.58 508.48,384.48 508.62,385.29 508.77,382.95 508.92,382.34 509.07,384.99 509.22,383.73 509.37,385.04 509.52,390.20 509.67,383.55 509.81,382.40 509.96,380.11 510.11,387.26 510.26,385.04 510.41,382.38 510.56,387.07 510.71,382.99 510.86,385.66 511.00,384.87 511.15,386.55 511.30,384.00 511.45,382.40 511.60,384.14 511.75,383.14 511.90,390.36 512.05,388.95 512.19,387.06 512.34,385.48 512.49,387.66 512.64,387.51 512.79,388.08 512.94,381.86 513.09,387.82 513.24,389.24 513.38,392.40 513.53,392.68 513.68,388.41 513.83,382.52 513.98,386.88 514.13,389.91 514.28,384.15 514.43,389.91 514.57,386.58 514.72,391.30 514.87,388.95 515.02,391.14 515.17,392.27 515.32,392.32 515.47,389.81 515.62,388.66 515.76,389.30 515.91,391.01 516.06,393.85 516.21,390.82 516.36,390.87 516.51,387.03 516.66,391.09 516.81,389.81 516.95,387.11 517.10,389.97 517.25,392.91 517.40,392.36 517.55,391.29 517.70,392.38 517.85,390.61 518.00,397.25 518.14,387.65 518.29,391.21 518.44,394.17 518.59,388.31 518.74,392.06 518.89,392.45 519.04,393.91 519.19,393.73 519.33,394.12 519.48,394.76 519.63,395.65 519.78,388.51 519.93,394.57 520.08,392.18 520.23,390.71 520.38,396.12 520.52,393.55 520.67,396.04 520.82,394.89 520.97,395.65 521.12,396.42 521.27,394.70 521.42,394.16 521.57,396.49 521.71,393.43 521.86,395.11 522.01,396.39 522.16,396.07 522.31,398.06 522.46,395.50 522.61,397.48 522.76,396.61 522.90,396.54 523.05,395.53 523.20,399.00 523.35,397.99 523.50,394.99 523.65,394.26 523.80,398.01 523.95,392.19 524.09,396.05 524.24,396.47 524.39,397.26 524.54,397.15 524.69,395.81 524.84,399.09 524.99,397.26 525.14,399.00 525.29,398.15 525.43,398.64 525.58,400.01 525.73,396.90 525.88,400.13 526.03,398.65 526.18,397.84 526.33,399.04 526.48,400.14 526.62,395.13 526.77,399.10 526.92,399.84 527.07,399.52 527.22,397.67 527.37,398.84 527.52,402.32 527.67,404.24 527.81,397.44 527.96,397.31 528.11,398.58 528.26,399.16 528.41,400.64 528.56,403.68 528.71,399.94 528.86,399.02 529.00,398.65 529.15,400.17 529.30,405.09 529.45,400.32 529.60,401.08 529.75,398.06 529.90,402.83 530.05,401.16 530.19,402.55 530.34,402.32 530.49,401.00 530.64,402.76 530.79,401.98 530.94,400.24 531.09,401.59 531.24,402.31 531.38,402.07 531.53,403.02 531.68,400.68 531.83,400.70 531.98,404.14 532.13,400.10 532.28,400.35 532.43,401.42 532.57,402.20 532.72,403.15 532.87,401.74 533.02,400.57 533.17,401.35 533.32,401.81 533.47,402.91 533.62,401.46 533.76,400.79 533.91,402.57 534.06,404.29 534.21,402.07 534.36,402.40 534.51,402.00 534.66,402.72 534.81,403.05 534.95,402.75 535.10,404.63 535.25,404.53 535.40,404.40 535.55,404.14 535.70,402.83 535.85,404.43 536.00,404.78 536.14,401.34 536.29,407.08 536.44,404.90 536.59,404.08 536.74,404.36 536.89,402.98 537.04,404.60 537.19,404.59 537.33,401.82 537.48,403.17 537.63,402.18 537.78,403.24 537.93,405.44 538.08,405.43 538.23,406.57 538.38,403.17 538.52,405.84 538.67,404.87 538.82,403.24 538.97,399.97 539.12,404.95 539.27,403.17 539.42,403.94 539.57,404.13 539.71,403.75 539.86,401.71 540.01,405.17 540.16,405.46 540.31,406.33 540.46,404.89 540.61,406.29 540.76,404.31 540.90,404.01 541.05,403.44 541.20,407.76 541.35,404.09 541.50,405.05 541.65,405.37 541.80,404.06 541.95,402.18 542.09,408.96 542.24,405.43 542.39,406.63 542.54,405.74 542.69,403.56 542.84,403.68 542.99,405.99 543.14,406.67 543.29,403.86 543.43,406.29 543.58,404.89 543.73,403.30 543.88,404.64 544.03,407.26 544.18,406.21 544.33,407.30 544.48,407.83 544.62,407.75 544.77,405.49 544.92,404.94 545.07,402.15 545.22,405.35 545.37,407.73 545.52,402.70 545.67,405.45 545.81,406.23 545.96,404.68 546.11,405.89 546.26,405.70 546.41,404.99 546.56,405.33 546.71,407.04 546.86,407.04 547.00,408.18 547.15,403.08 547.30,405.58 547.45,405.89 547.60,407.39 547.75,407.88 547.90,405.63 548.05,405.04 548.19,405.53 548.34,405.34 548.49,405.89 548.64,407.62 548.79,405.03 548.94,406.75 549.09,404.68 549.24,403.48 549.38,405.46 549.53,407.67 549.68,406.14 549.83,410.47 549.98,403.57 550.13,406.83" fill="none" stroke="#000" stroke-width="0.7" stroke-linejoin="round"/>
<rect x="133.5" y="107.5" width="416.6" height="322" fill="none" stroke="#000" stroke-width="2.8"/>
<line x1="133.55" y1="106.1" x2="133.55" y2="430.9" stroke="#000" stroke-width="3.1"/>
<g stroke="#000" stroke-width="2.4">
<line x1="178.23" y1="429" x2="178.23" y2="435.6"/>
<line x1="252.61" y1="429" x2="252.61" y2="435.6"/>
<line x1="326.99" y1="429" x2="326.99" y2="435.6"/>
<line x1="401.37" y1="429" x2="401.37" y2="435.6"/>
<line x1="475.75" y1="429" x2="475.75" y2="435.6"/>
<line x1="550.13" y1="429" x2="550.13" y2="435.6"/>
</g>
<g font-family="Liberation Sans, sans-serif" font-size="13.3" text-rendering="geometricPrecision" fill="#000">
<text x="174.53" y="450.5">5</text>
<path d="M250.17 450.50L249.00 450.50L249.00 443.05Q248.58 443.45 247.89 443.86Q247.20 444.26 246.65 444.46L246.65 443.33Q247.63 442.87 248.36 442.21Q249.09 441.70 249.40 441.12L250.17 441.12Z" fill="#000"/>
<text x="252.61" y="450.5">0</text>
<path d="M324.55 450.50L323.38 450.50L323.38 443.05Q322.96 443.45 322.27 443.86Q321.58 444.26 321.03 444.46L321.03 443.33Q322.01 442.87 322.74 442.21Q323.47 441.70 323.78 441.12L324.55 441.12Z" fill="#000"/>
<text x="326.99" y="450.5">5</text>
<text x="393.97" y="450.5">2</text>
<text x="401.37" y="450.5">0</text>
<text x="468.35" y="450.5">2</text>
<text x="475.75" y="450.5">5</text>
<text x="542.73" y="450.5">3</text>
<text x="550.13" y="450.5">0</text>
</g>
<text x="298.3" y="483.2" font-family="Liberation Sans, sans-serif" font-size="23.9" font-weight="bold" text-rendering="geometricPrecision" fill="#000">2</text>
<text x="320" y="483.2" font-family="Liberation Sans, sans-serif" font-size="23.9" font-weight="bold" text-rendering="geometricPrecision" fill="#000">Theta</text>
<text transform="translate(112.9 260.6) rotate(-90) scale(1 1.06)" font-family="Liberation Sans, sans-serif" font-size="23.7" font-weight="bold" text-anchor="middle" text-rendering="geometricPrecision" fill="#000">Intensity(a.u.)</text>
<line x1="361" y1="139.5" x2="407.2" y2="139.5" stroke="#000" stroke-width="0.47"/>
<text x="413.0" y="145.6" font-family="Liberation Sans, sans-serif" font-size="20.7" text-rendering="geometricPrecision" fill="#000">COF-TpPa-</text>
<path d="M527.69 145.60L525.87 145.60L525.87 134.01Q525.21 134.63 524.14 135.26Q523.07 135.89 522.21 136.20L522.21 134.44Q523.73 133.72 524.88 132.70Q526.02 131.90 526.49 130.99L527.69 130.99Z" fill="#000"/>
</svg>
</body></html>
